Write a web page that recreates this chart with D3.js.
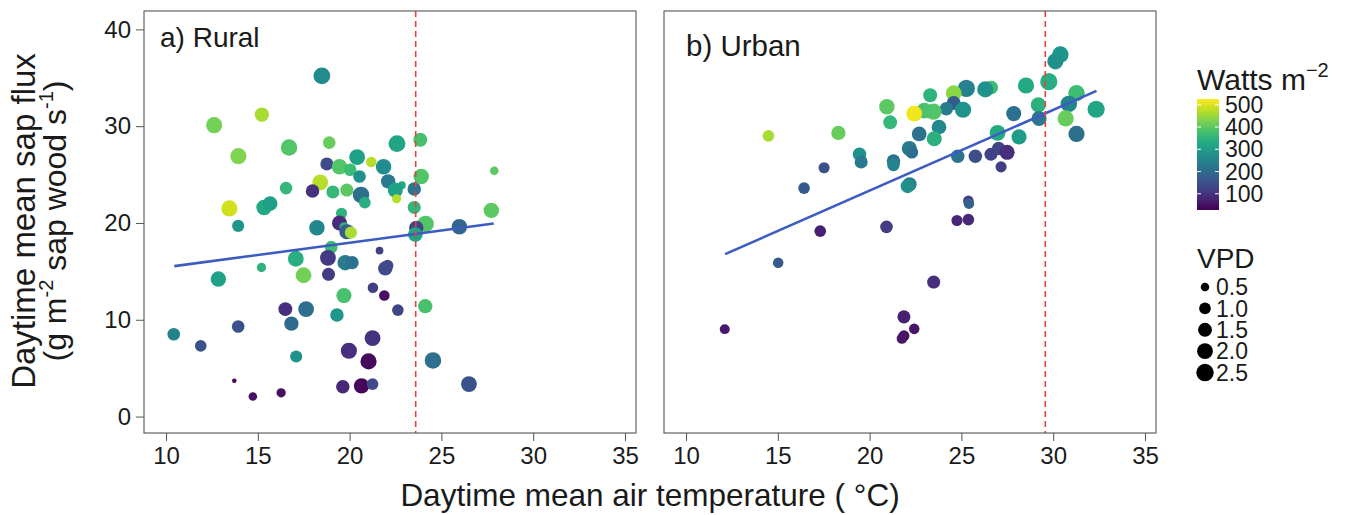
<!DOCTYPE html>
<html>
<head>
<meta charset="utf-8">
<script src="https://cdn.jsdelivr.net/npm/d3@7"></script>
<style>
  body { margin: 0; background: #fff; }
  svg text { font-family: "Liberation Sans", Arial, sans-serif; fill: #1a1a1a; }
</style>
</head>
<body>
<svg id="chart" width="1352" height="515"></svg>
<script>
// RURAL: temperature, sap flux, radiation (W m-2), VPD
const ruralTemp = [18.49, 15.22, 12.62, 13.94, 16.7, 18.89, 22.58, 23.85, 18.76, 19.45, 20.03, 20.41, 21.18, 21.85, 20.54, 22.1, 22.85, 22.49, 23.9, 23.52, 18.4, 17.98, 16.54, 19.09, 19.85, 20.62, 20.83, 22.56, 13.45, 15.34, 15.67, 23.52, 27.72, 27.88, 13.93, 18.22, 19.56, 19.45, 19.7, 19.85, 20.07, 24.14, 23.63, 23.58, 25.98, 19.0, 21.63, 17.07, 15.2, 12.85, 17.49, 18.82, 18.85, 19.76, 20.14, 21.94, 22.07, 21.27, 21.89, 19.69, 16.5, 17.63, 19.31, 22.63, 24.12, 13.93, 16.83, 10.42, 11.89, 17.09, 19.96, 21.25, 21.03, 24.54, 26.5, 13.72, 14.73, 16.27, 19.63, 20.65, 21.25];
const ruralFlux = [35.2, 31.2, 30.1, 26.9, 27.8, 28.3, 28.2, 28.6, 26.1, 25.8, 25.5, 26.8, 26.3, 25.8, 24.8, 24.3, 23.9, 23.4, 24.8, 23.5, 24.2, 23.3, 23.6, 23.2, 23.4, 22.9, 22.1, 22.5, 21.5, 21.6, 22.0, 21.6, 21.3, 25.4, 19.7, 19.5, 21.0, 20.0, 19.6, 19.1, 19.0, 19.9, 19.5, 18.8, 19.6, 17.5, 17.15, 16.3, 15.4, 14.2, 14.6, 16.4, 14.7, 15.9, 15.9, 15.3, 15.6, 13.3, 12.5, 12.5, 11.1, 11.1, 10.5, 11.0, 11.4, 9.3, 9.6, 8.5, 7.3, 6.2, 6.8, 8.1, 5.7, 5.8, 3.35, 3.7, 2.07, 2.45, 3.07, 3.17, 3.35];
const ruralRad = [265, 460, 420, 430, 390, 410, 320, 380, 140, 390, 370, 310, 470, 270, 280, 230, 330, 310, 390, 220, 470, 100, 360, 360, 400, 210, 340, 470, 490, 330, 310, 360, 400, 400, 290, 260, 350, 90, 350, 175, 460, 390, 130, 320, 190, 370, 120, 340, 350, 310, 420, 110, 115, 235, 215, 140, 140, 120, 45, 380, 95, 205, 290, 130, 380, 150, 200, 250, 150, 280, 95, 100, 40, 210, 150, 40, 45, 45, 85, 35, 140];
const ruralVpd = [2.3, 1.6, 2.1, 2.1, 2.2, 1.2, 2.3, 1.5, 1.3, 1.9, 1.2, 2.0, 0.8, 1.9, 1.2, 1.6, 0.4, 1.8, 1.9, 1.4, 2.0, 1.4, 1.2, 1.3, 1.3, 2.2, 1.0, 0.6, 2.1, 1.9, 1.7, 1.3, 1.9, 0.5, 1.1, 1.9, 0.9, 1.8, 0.6, 1.8, 1.1, 2.2, 1.6, 1.7, 1.9, 1.2, 0.4, 2.0, 0.6, 1.9, 2.0, 2.0, 1.3, 1.9, 1.3, 1.6, 1.0, 0.8, 0.8, 1.8, 1.5, 2.0, 1.4, 1.0, 1.6, 1.2, 1.6, 1.2, 1.0, 1.1, 2.1, 2.0, 2.1, 2.2, 2.0, 0.15, 0.5, 0.6, 1.4, 1.9, 1.0];

// URBAN
const urbanTemp = [30.39, 30.12, 29.76, 28.52, 26.63, 26.3, 25.27, 24.58, 24.58, 24.18, 25.09, 23.3, 23.48, 22.98, 22.43, 20.94, 21.12, 18.3, 14.49, 29.19, 27.85, 29.23, 31.27, 30.85, 32.34, 30.68, 31.27, 26.97, 28.14, 23.78, 22.7, 23.52, 19.45, 19.54, 21.3, 21.3, 22.16, 22.3, 24.8, 25.76, 26.61, 27.03, 27.49, 27.16, 17.52, 16.43, 22.18, 22.07, 25.38, 25.41, 17.31, 20.92, 24.76, 25.38, 15.02, 23.49, 21.87, 22.43, 21.87, 21.76, 12.11];
const urbanFlux = [37.4, 36.7, 34.6, 34.2, 34.0, 33.8, 33.9, 33.4, 32.4, 31.8, 31.7, 33.2, 31.5, 31.6, 31.3, 32.0, 30.4, 29.3, 29.0, 32.2, 31.3, 30.8, 33.4, 32.3, 31.75, 30.8, 29.2, 29.3, 28.9, 29.9, 29.2, 28.7, 27.1, 26.3, 26.4, 26.0, 27.7, 27.3, 26.9, 26.9, 27.1, 27.7, 27.3, 25.8, 25.7, 23.6, 24.0, 23.8, 22.3, 22.0, 19.15, 19.6, 20.25, 20.35, 15.9, 13.9, 10.3, 9.06, 8.34, 8.06, 9.03];
const urbanRad = [290, 275, 340, 330, 370, 280, 245, 440, 170, 235, 285, 350, 390, 385, 515, 400, 360, 410, 460, 345, 215, 225, 370, 255, 320, 410, 210, 330, 300, 260, 215, 345, 280, 230, 215, 250, 230, 205, 215, 145, 125, 130, 95, 120, 150, 165, 230, 275, 115, 180, 70, 115, 80, 85, 165, 95, 70, 55, 55, 55, 60];
const urbanVpd = [2.2, 2.1, 2.4, 2.1, 1.4, 2.1, 2.4, 2.0, 1.5, 1.4, 2.1, 1.5, 2.1, 2.0, 2.0, 1.9, 1.5, 1.6, 1.0, 1.8, 1.8, 1.8, 2.2, 2.2, 2.4, 2.1, 2.1, 2.0, 1.8, 1.7, 1.7, 1.8, 1.4, 1.3, 1.4, 1.2, 1.8, 1.2, 1.4, 1.4, 1.3, 1.4, 1.8, 0.9, 0.9, 1.0, 1.5, 1.5, 0.8, 0.8, 1.0, 1.2, 0.9, 1.0, 0.8, 1.3, 1.3, 0.8, 0.9, 0.8, 0.7];

// linear fit ends and temperature thresholds
const ruralFitX = [10.45, 27.85];
const ruralFitY = [15.54, 19.94];
const urbanFitX = [12.13, 32.36];
const urbanFitY = [16.78, 33.65];
const thresholds = [23.6, 29.57];
const panelLabels = ['a) Rural', 'b) Urban'];

const xTicks = [10, 15, 20, 25, 30, 35];
const yTicks = [0, 10, 20, 30, 40];
const radTicks = [100, 200, 300, 400, 500];
const vpdBreaks = [0.5, 1.0, 1.5, 2.0, 2.5];

const svg = d3.select('#chart');
const plotTop = 11, plotBottom = 433;
const panelLefts = [144, 664];
const panelWidth = 492;

const y = d3.scaleLinear().domain([-1.7, 41.9]).range([plotBottom, plotTop]);
const color = d3.scaleSequential(d3.interpolateViridis).domain([27, 526]);
const vpdMin = 0.1, vpdMax = 2.6;
const radius = v => 1.2 + 7.7 * Math.sqrt(Math.max(0, v - vpdMin) / (vpdMax - vpdMin));

const panels = [
  { temp: ruralTemp, flux: ruralFlux, rad: ruralRad, vpd: ruralVpd, fitX: ruralFitX, fitY: ruralFitY },
  { temp: urbanTemp, flux: urbanFlux, rad: urbanRad, vpd: urbanVpd, fitX: urbanFitX, fitY: urbanFitY }
];

panels.forEach((p, k) => {
  const left = panelLefts[k];
  const x = d3.scaleLinear().domain([8.8, 35.6]).range([left, left + panelWidth]);
  const g = svg.append('g');

  // POINTS
  g.selectAll('circle')
    .data(p.temp.map((t, i) => ({ t, f: p.flux[i], r: p.rad[i], v: p.vpd[i] })))
    .join('circle')
    .attr('cx', d => x(d.t))
    .attr('cy', d => y(d.f))
    .attr('r', d => radius(d.v))
    .attr('fill', d => color(d.r));

  // FIT LINE
  g.append('line')
    .attr('x1', x(p.fitX[0])).attr('y1', y(p.fitY[0]))
    .attr('x2', x(p.fitX[1])).attr('y2', y(p.fitY[1]))
    .attr('stroke', '#3d5cc2')
    .attr('stroke-width', 2.6);

  // THRESHOLD
  g.append('line')
    .attr('x1', x(thresholds[k])).attr('x2', x(thresholds[k]))
    .attr('y1', plotTop).attr('y2', plotBottom)
    .attr('stroke', '#e8413c')
    .attr('stroke-width', 1.6)
    .attr('stroke-dasharray', '6,4');

  // BORDER
  g.append('rect')
    .attr('x', left).attr('y', plotTop)
    .attr('width', panelWidth).attr('height', plotBottom - plotTop)
    .attr('fill', 'none')
    .attr('stroke', '#555')
    .attr('stroke-width', 1.1);

  // AXES
  const xAxis = g.append('g')
    .attr('transform', `translate(0,${plotBottom})`)
    .call(d3.axisBottom(x).tickValues(xTicks).tickSize(8).tickPadding(6));
  xAxis.select('.domain').remove();
  xAxis.selectAll('line').attr('stroke', '#555');
  xAxis.selectAll('text').attr('font-size', 24).attr('fill', '#1a1a1a').attr('font-family', null);

  if (k === 0) {
    const yAxis = g.append('g')
      .attr('transform', `translate(${left},0)`)
      .call(d3.axisLeft(y).tickValues(yTicks).tickSize(8).tickPadding(5));
    yAxis.select('.domain').remove();
    yAxis.selectAll('line').attr('stroke', '#555');
    yAxis.selectAll('text').attr('font-size', 24).attr('fill', '#1a1a1a').attr('font-family', null);
  }

  g.append('text')
    .attr('x', left + (k === 0 ? 16 : 22))
    .attr('y', k === 0 ? 47 : 56)
    .attr('font-size', k === 0 ? 28 : 29.5)
    .text(panelLabels[k]);
});

// AXIS TITLES
svg.append('text')
  .attr('x', 650).attr('y', 506)
  .attr('text-anchor', 'middle')
  .attr('font-size', 31.5)
  .text('Daytime mean air temperature ( °C)');

const yTitle = svg.append('g')
  .attr('transform', `translate(0,221) rotate(-90)`);
yTitle.append('text')
  .attr('x', 0).attr('y', 35)
  .attr('text-anchor', 'middle')
  .attr('font-size', 33)
  .text('Daytime mean sap flux');
const line2 = yTitle.append('text')
  .attr('x', 0).attr('y', 66)
  .attr('text-anchor', 'middle')
  .attr('font-size', 32);
line2.append('tspan').text('(g m');
line2.append('tspan').attr('font-size', 20).attr('dy', -13).text('-2');
line2.append('tspan').attr('dy', 13).text(' sap wood s');
line2.append('tspan').attr('font-size', 20).attr('dy', -13).text('-1');
line2.append('tspan').attr('dy', 13).text(')');

// COLOUR LEGEND
const barX = 1197, barW = 22, barTop = 99, barBottom = 210;
const defs = svg.append('defs');
const grad = defs.append('linearGradient')
  .attr('id', 'viridis')
  .attr('x1', 0).attr('y1', 1).attr('x2', 0).attr('y2', 0);
d3.range(0, 1.001, 0.1).forEach(t => {
  grad.append('stop').attr('offset', t).attr('stop-color', d3.interpolateViridis(t));
});
const barScale = d3.scaleLinear().domain(color.domain()).range([barBottom, barTop]);

const titleW = svg.append('text')
  .attr('x', 1197).attr('y', 90)
  .attr('font-size', 30);
titleW.append('tspan').text('Watts m');
titleW.append('tspan').attr('font-size', 20).attr('dy', -13).text('\u22122');

svg.append('rect')
  .attr('x', barX).attr('y', barTop)
  .attr('width', barW).attr('height', barBottom - barTop)
  .attr('fill', 'url(#viridis)');

radTicks.forEach(v => {
  const ty = barScale(v);
  svg.append('line').attr('x1', barX).attr('x2', barX + 4).attr('y1', ty).attr('y2', ty)
    .attr('stroke', 'white').attr('stroke-width', 1);
  svg.append('line').attr('x1', barX + barW - 4).attr('x2', barX + barW).attr('y1', ty).attr('y2', ty)
    .attr('stroke', 'white').attr('stroke-width', 1);
  svg.append('text')
    .attr('x', 1225).attr('y', ty)
    .attr('dy', '0.35em')
    .attr('font-size', 23)
    .text(v);
});

// SIZE LEGEND
svg.append('text')
  .attr('x', 1197).attr('y', 268)
  .attr('font-size', 28)
  .text('VPD');

vpdBreaks.forEach((v, i) => {
  const ly = 287 + i * 21.4;
  svg.append('circle')
    .attr('cx', 1205).attr('cy', ly)
    .attr('r', radius(v))
    .attr('fill', 'black');
  svg.append('text')
    .attr('x', 1216).attr('y', ly)
    .attr('dy', '0.36em')
    .attr('font-size', 23)
    .text(v.toFixed(1));
});
</script>
</body>
</html>
